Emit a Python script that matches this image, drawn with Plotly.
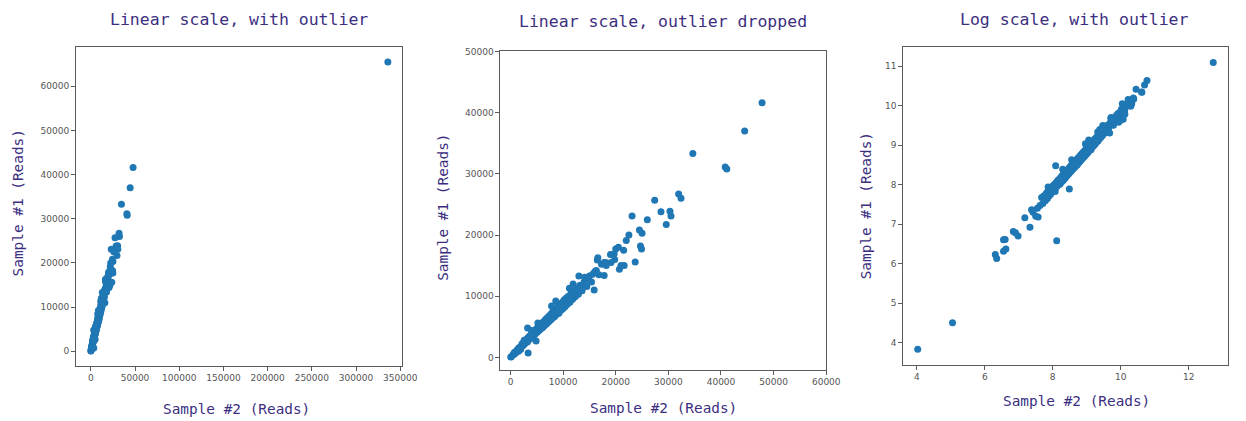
import numpy as np
import plotly.graph_objects as go

# ---------------- data (reads) ----------------
# Sample #2 (x) and Sample #1 (y) read counts; the big outlier is kept separately
sample2_reads = [
    56, 156,
    550, 573, 700, 700, 750, 735, 934, 992, 1075, 1312, 1525, 1600, 1670, 1808, 1940, 1900,
    3350, 3250, 4860,
    2050, 2150, 2230, 2300, 2400, 2480, 2550, 2600, 2700, 2750, 2820, 2900, 2950, 3000,
    3080, 3150, 3200, 3300, 3380, 3450, 3500, 3600, 3680, 3750, 3800, 3900, 3950, 4050,
    4100, 4200, 4280, 4350, 4450, 4500, 4600, 4680, 4750, 4850, 4900, 5000, 5100, 5200,
    5250, 5350, 5450, 5500, 5600, 5700, 5800, 5850, 5950, 6050, 6150, 6250, 6300, 6400,
    6500, 6600, 6700, 6800, 6900, 7000, 7100, 7250, 7350, 7450, 7600, 7700, 7850, 8000,
    8100, 8250, 8400, 8550, 8700, 8850, 9000, 9150, 9300, 9500, 9700, 9850, 10000, 10200,
    10400, 10600, 10800, 11000, 11300, 11500, 11800, 12000, 12300, 12600, 12900, 13200,
    13600, 14000, 14500, 15000, 15400, 16000, 16800, 17300, 18200, 19000, 19800, 20500,
    21500, 22500,
    2500, 3100, 3700, 4300, 4800, 5400, 6000, 6600, 7200, 7900, 8500, 9100, 9900, 10700,
    11600, 12500, 13400, 14800, 16300, 17800,
    5200, 6100, 7800, 9200, 11200, 4000, 3200, 8600, 13000, 16500, 2600,
    47800, 44500, 34650, 40800, 41100, 31950, 32400, 27400, 28600, 30300, 30500, 23100,
    26000, 29600, 24500, 25000, 22000, 24700, 24900, 23700, 20000, 19700, 21000, 19100,
    21600, 20700, 16600, 18100, 16300, 15600, 17800, 14100, 13400, 14200, 15900, 11900,
]
sample1_reads = [
    46, 90,
    507, 459, 735, 550, 584, 740, 907, 880, 812, 1287, 1012, 1572, 1480, 1340, 1310, 1636,
    720, 4800, 2670,
    1750, 2150, 1850, 2250, 1980, 2400, 2100, 2500, 2250, 2650, 2350, 2750, 2500, 2900,
    2600, 3000, 2650, 3150, 2850, 3300, 2950, 3400, 3000, 3550, 3150, 3700, 3250, 3850,
    3350, 4000, 3500, 4150, 3650, 4250, 3800, 4400, 3900, 4550, 4050, 4700, 4150, 4900,
    4300, 5000, 4450, 5150, 4550, 5300, 4700, 5450, 4850, 5600, 5000, 5800, 5100, 5900,
    5250, 6100, 5400, 6300, 5550, 6450, 5750, 6700, 5900, 6850, 6100, 7100, 6300, 7400,
    6500, 7600, 6700, 7900, 7000, 8150, 7200, 8400, 7500, 8700, 7800, 9000, 8000, 9400,
    8300, 9700, 8700, 10000, 9000, 10500, 9500, 10900, 9900, 11300, 10300, 11800,
    10900, 12300, 11600, 13300, 12300, 14000, 13500, 15200, 15000, 16800, 16000, 18000,
    17500, 20000,
    2250, 2800, 3350, 3850, 4300, 4800, 5400, 5850, 6400, 7000, 7500, 8000, 8700, 9400,
    10200, 11000, 11700, 12900, 14200, 15500,
    5600, 4900, 8400, 7200, 11300, 4400, 2500, 9200, 13300, 15900, 2800,
    41600, 37000, 33300, 31100, 30800, 26700, 26000, 25700, 23800, 23900, 23100, 23100,
    22500, 21700, 20800, 20300, 19100, 18200, 17700, 15600, 17700, 16900, 15000, 15500,
    15000, 14400, 16300, 15500, 13900, 13600, 13400, 13100, 11500, 12000, 11000, 12000,
]
outlier_sample2 = [336000]
outlier_sample1 = [65500]

titles = ["Linear scale, with outlier", "Linear scale, outlier dropped", "Log scale, with outlier"]
xlabel = "Sample #2 (Reads)"
ylabel = "Sample #1 (Reads)"

x_all = np.array(sample2_reads + outlier_sample2, dtype=float)
y_all = np.array(sample1_reads + outlier_sample1, dtype=float)
x_drop = np.array(sample2_reads, dtype=float)
y_drop = np.array(sample1_reads, dtype=float)

W, H = 1246, 421
BLUE = "#1f77b4"
PURPLE = "#3c2f7f"
MONO = "DejaVu Sans Mono"

def px_x(p):
    return p / W

def px_y(p):
    return 1 - p / H

fig = go.Figure()
marker = dict(color=BLUE, size=7, line=dict(width=0))
fig.add_trace(go.Scatter(x=x_all, y=y_all, mode="markers", marker=marker, xaxis="x", yaxis="y", showlegend=False))
fig.add_trace(go.Scatter(x=x_drop, y=y_drop, mode="markers", marker=marker, xaxis="x2", yaxis="y2", showlegend=False))
fig.add_trace(go.Scatter(x=np.log(x_all), y=np.log(y_all), mode="markers", marker=marker, xaxis="x3", yaxis="y3", showlegend=False))

axis_common = dict(showline=True, mirror=True, linecolor="#5a5a5a", linewidth=1,
                   showgrid=False, zeroline=False, ticks="outside", ticklen=4,
                   tickcolor="#5a5a5a", tickfont=dict(family="DejaVu Sans", size=9, color="#555555"))

# panel pixel boxes: (left, right, top, bottom)
boxes = [(77, 407, 43, 365), (507, 837, 47, 369), (915, 1244, 43, 364)]
xranges = [[-16750, 351750], [-1900, 60000], [3.6, 13.16]]
yranges = [[-3275, 68775], [-2000, 50000], [3.44, 11.47]]
xticks = [list(range(0, 350001, 50000)), list(range(0, 60001, 10000)), [4, 6, 8, 10, 12]]
yticks = [list(range(0, 60001, 10000)), list(range(0, 50001, 10000)), [4, 5, 6, 7, 8, 9, 10, 11]]

layout = {}
for i, (l, r, t, b) in enumerate(boxes):
    sfx = "" if i == 0 else str(i + 1)
    layout["xaxis" + sfx] = dict(axis_common, domain=[px_x(l), px_x(r)], range=xranges[i],
                                 tickvals=xticks[i], ticktext=[str(v) for v in xticks[i]],
                                 anchor="y" + sfx)
    layout["yaxis" + sfx] = dict(axis_common, domain=[px_y(b), px_y(t)], range=yranges[i],
                                 tickvals=yticks[i], ticktext=[str(v) for v in yticks[i]],
                                 anchor="x" + sfx)

annotations = []
title_pos = [(242, 15), (672, 17), (1088, 15)]
xlab_pos = [(240, 409), (672, 408), (1090, 401)]
ylab_pos = [(18, 200), (448, 205), (877, 203)]
for i in range(3):
    tx, ty = title_pos[i]
    annotations.append(dict(text=titles[i], x=px_x(tx), y=px_y(ty), xref="paper", yref="paper",
                            xanchor="center", yanchor="middle", showarrow=False,
                            font=dict(family=MONO, size=16.5, color=PURPLE)))
    lx, ly = xlab_pos[i]
    annotations.append(dict(text=xlabel, x=px_x(lx), y=px_y(ly), xref="paper", yref="paper",
                            xanchor="center", yanchor="middle", showarrow=False,
                            font=dict(family=MONO, size=14.4, color=PURPLE)))
    yx, yy = ylab_pos[i]
    annotations.append(dict(text=ylabel, x=px_x(yx), y=px_y(yy), xref="paper", yref="paper",
                            xanchor="center", yanchor="middle", showarrow=False, textangle=-90,
                            font=dict(family=MONO, size=14.4, color=PURPLE)))

fig.update_layout(width=W, height=H, margin=dict(l=0, r=0, t=0, b=0),
                  paper_bgcolor="white", plot_bgcolor="white",
                  annotations=annotations, **layout)

fig.write_html("out.html")
